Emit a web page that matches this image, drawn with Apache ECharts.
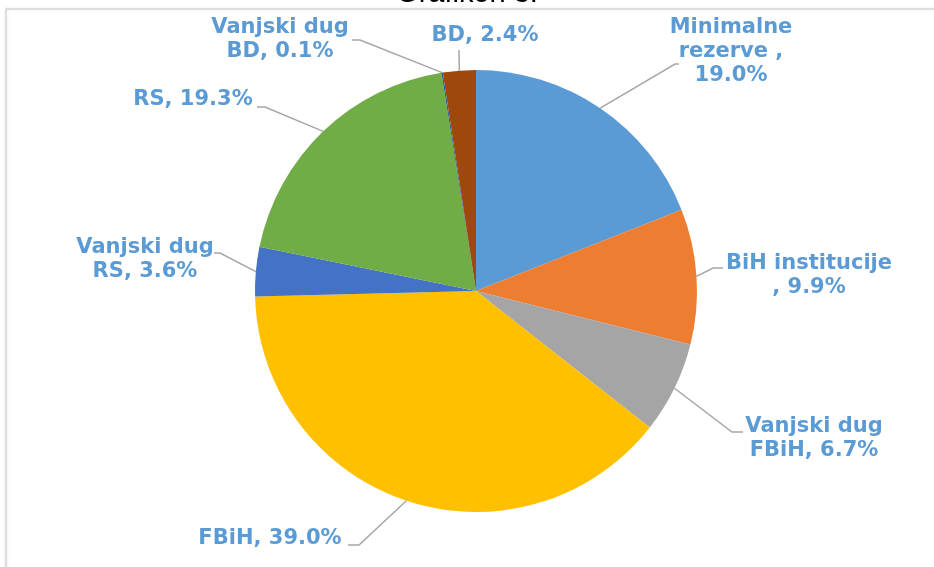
<!DOCTYPE html>
<html>
<head>
<meta charset="utf-8">
<script src="https://cdn.jsdelivr.net/npm/echarts@6/dist/echarts.min.js"></script>
<style>html,body{margin:0;padding:0;background:#fff;}#c{width:934px;height:567px;}</style>
</head>
<body>
<div id="c"></div>
<script>
const categories = ['Minimalne rezerve', 'BiH institucije', 'Vanjski dug FBiH', 'FBiH', 'Vanjski dug RS', 'RS', 'Vanjski dug BD', 'BD'];
const labelNames = ['Minimalne\nrezerve ,\n', 'BiH institucije\n, ', 'Vanjski dug\nFBiH, ', 'FBiH, ', 'Vanjski dug\nRS, ', 'RS, ', 'Vanjski dug\nBD, ', 'BD, '];
const values = [19.0, 9.9, 6.7, 39.0, 3.6, 19.3, 0.1, 2.4];
const colors = ['#5B9BD5', '#ED7D31', '#A5A5A5', '#FFC000', '#4472C4', '#70AD47', '#255E91', '#9E480E'];

// label layout (positions only)
const labelPos = [
  {x: 731, y: 52, bend: [675, 64], end: [679, 64]},
  {x: 809, y: 276, bend: [713, 268], end: [723, 268]},
  {x: 814, y: 439, bend: [732, 432], end: [743, 432]},
  {x: 270, y: 539, bend: [359, 545], end: [348, 545]},
  {x: 145, y: 260, bend: [220, 253], end: [214, 253]},
  {x: 193, y: 100, bend: [265, 107], end: [257, 107]},
  {x: 280, y: 40, bend: [360, 40], end: [352, 40]},
  {x: 485, y: 36, bend: [459, 50], end: [459, 50]}
];

const chart = echarts.init(document.getElementById('c'));
chart.setOption({
  animation: false,
  backgroundColor: '#fff',
  title: {
    text: 'Grafikon 3.',
    left: 'center',
    top: -26,
    textStyle: {fontFamily: 'Liberation Sans', fontWeight: 'normal', fontSize: 29, color: '#000'}
  },
  graphic: [{
    type: 'rect',
    shape: {x: 6, y: 9, width: 940, height: 570},
    style: {fill: 'rgba(0,0,0,0)', stroke: '#D6D6D6', lineWidth: 1.5, shadowBlur: 3, shadowColor: 'rgba(0,0,0,0.12)'},
    z: -1
  }],
  series: [{
    type: 'pie',
    center: [476, 291],
    radius: 221,
    startAngle: 90,
    clockwise: true,
    data: categories.map((c, i) => ({name: c, value: values[i], itemStyle: {color: colors[i]}})),
    itemStyle: {borderColor: '#fff', borderWidth: 0},
    label: {
      show: true,
      formatter: p => labelNames[p.dataIndex] + values[p.dataIndex].toFixed(1) + '%',
      fontFamily: 'DejaVu Sans',
      fontWeight: 'bold',
      fontSize: 21,
      lineHeight: 24,
      color: '#5B9BD5',
      align: 'center'
    },
    labelLine: {show: true, length: 20, length2: 10, lineStyle: {color: '#A6A6A6', width: 1.5}},
    labelLayout: function (params) {
      const lp = labelPos[params.dataIndex];
      const start = params.labelLinePoints ? params.labelLinePoints[0] : [0, 0];
      return {
        x: lp.x, y: lp.y, align: 'center', verticalAlign: 'middle',
        labelLinePoints: [start, lp.bend, lp.end]
      };
    }
  }]
});
</script>
</body>
</html>
